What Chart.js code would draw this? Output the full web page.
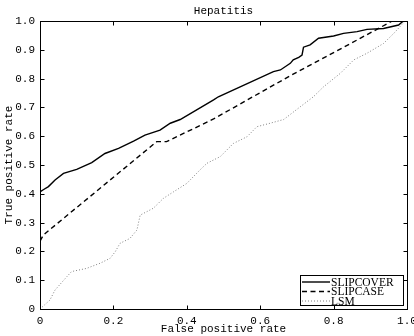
<!DOCTYPE html>
<html>
<head>
<meta charset="utf-8">
<script src="https://cdn.jsdelivr.net/npm/chart.js@4/dist/chart.umd.min.js"></script>
<style>
  html, body { margin: 0; padding: 0; background: #fff; }
  #wrap { width: 414px; height: 336px; }
</style>
</head>
<body>
<div id="wrap"><canvas id="roc"></canvas></div>
<script>
// ROC curves
const chartTitle = "Hepatitis";
const seriesNames = ["SLIPCOVER", "SLIPCASE", "LSM"];

const slipcoverFpr = [0, 0, 0.01, 0.023, 0.041, 0.064, 0.1, 0.141, 0.177, 0.214, 0.255, 0.286, 0.327, 0.355, 0.382, 0.473, 0.486, 0.636, 0.655, 0.682, 0.69, 0.705, 0.714, 0.718, 0.736, 0.759, 0.8, 0.827, 0.864, 0.891, 0.936, 0.977, 0.99, 1];
const slipcoverTpr = [0, 0.407, 0.415, 0.425, 0.448, 0.471, 0.485, 0.508, 0.54, 0.558, 0.583, 0.604, 0.621, 0.645, 0.658, 0.726, 0.737, 0.824, 0.83, 0.853, 0.865, 0.874, 0.882, 0.909, 0.917, 0.94, 0.948, 0.957, 0.963, 0.971, 0.974, 0.986, 1, 1];

const slipcaseFpr = [0, 0, 0.009, 0.318, 0.345, 0.473, 0.682, 0.81, 0.96, 1];
const slipcaseTpr = [0, 0.235, 0.257, 0.581, 0.581, 0.66, 0.81, 0.897, 1, 1];

const lsmFpr = [0, 0.027, 0.041, 0.073, 0.086, 0.127, 0.164, 0.191, 0.205, 0.218, 0.245, 0.264, 0.273, 0.309, 0.336, 0.364, 0.4, 0.436, 0.455, 0.491, 0.527, 0.564, 0.591, 0.627, 0.664, 0.709, 0.745, 0.773, 0.818, 0.855, 0.891, 0.936, 0.964, 0.995, 1];
const lsmTpr = [0, 0.031, 0.066, 0.112, 0.13, 0.141, 0.159, 0.176, 0.199, 0.228, 0.245, 0.274, 0.326, 0.35, 0.384, 0.407, 0.436, 0.483, 0.506, 0.529, 0.575, 0.598, 0.633, 0.645, 0.658, 0.702, 0.737, 0.772, 0.818, 0.865, 0.888, 0.922, 0.957, 1, 1];

const xTicks = [0, 0.2, 0.4, 0.6, 0.8, 1];
const yTicks = [0, 0.1, 0.2, 0.3, 0.4, 0.5, 0.6, 0.7, 0.8, 0.9, 1];

const MONO = "'Liberation Mono', 'DejaVu Sans Mono', monospace";
const SERIF = "'Liberation Serif', 'DejaVu Serif', serif";

function toPoints(xs, ys) {
  return xs.map((x, i) => ({ x: x, y: ys[i] }));
}

// box, inward ticks, title and legend in MATLAB style
const matlabFrame = {
  id: "matlabFrame",
  afterDraw(chart) {
    const ctx = chart.ctx;
    const a = chart.chartArea;
    const xs = chart.scales.x;
    const ys = chart.scales.y;
    const L = Math.round(a.left) + 0.5, R = Math.round(a.right) + 0.5;
    const T = Math.round(a.top) + 0.5, B = Math.round(a.bottom) + 0.5;
    ctx.save();
    ctx.strokeStyle = "#000";
    ctx.lineWidth = 1;
    ctx.strokeRect(L, T, R - L, B - T);
    ctx.beginPath();
    xTicks.forEach((v) => {
      const px = Math.round(xs.getPixelForValue(v)) + 0.5;
      ctx.moveTo(px, B); ctx.lineTo(px, B - 4);
      ctx.moveTo(px, T); ctx.lineTo(px, T + 4);
    });
    yTicks.forEach((v) => {
      const py = Math.round(ys.getPixelForValue(v)) + 0.5;
      ctx.moveTo(L, py); ctx.lineTo(L + 4, py);
      ctx.moveTo(R, py); ctx.lineTo(R - 4, py);
    });
    ctx.stroke();

    // title
    ctx.fillStyle = "#000";
    ctx.font = "11px " + MONO;
    ctx.textAlign = "center";
    ctx.textBaseline = "middle";
    ctx.fillText(chartTitle, (a.left + a.right) / 2, 11);

    // legend
    const bx = 300.5, by = 275.5, bw = 103, bh = 30;
    ctx.fillStyle = "#fff";
    ctx.fillRect(bx, by, bw, bh);
    ctx.strokeStyle = "#000";
    ctx.lineWidth = 1;
    ctx.setLineDash([]);
    ctx.strokeRect(bx, by, bw, bh);
    ctx.font = "11.5px " + SERIF;
    ctx.textAlign = "left";
    chart.data.datasets.forEach((ds, i) => {
      const cy = 282 + i * 9.5;
      ctx.beginPath();
      ctx.strokeStyle = ds.borderColor;
      ctx.lineWidth = ds.borderWidth;
      ctx.setLineDash(ds.borderDash || []);
      ctx.moveTo(302, cy);
      ctx.lineTo(330, cy);
      ctx.stroke();
      ctx.fillStyle = "#000";
      ctx.fillText(ds.label, 331, cy + 0.5);
    });
    ctx.restore();
  },
};

new Chart(document.getElementById("roc"), {
  type: "scatter",
  data: {
    datasets: [
      {
        label: seriesNames[0],
        data: toPoints(slipcoverFpr, slipcoverTpr),
        showLine: true,
        borderColor: "#000",
        borderWidth: 1.4,
        pointRadius: 0,
      },
      {
        label: seriesNames[1],
        data: toPoints(slipcaseFpr, slipcaseTpr),
        showLine: true,
        borderColor: "#000",
        borderWidth: 1.4,
        borderDash: [5, 3.5],
        pointRadius: 0,
      },
      {
        label: seriesNames[2],
        data: toPoints(lsmFpr, lsmTpr),
        showLine: true,
        borderColor: "#808080",
        borderWidth: 1,
        borderDash: [1, 2],
        pointRadius: 0,
      },
    ],
  },
  options: {
    responsive: true,
    maintainAspectRatio: false,
    animation: false,
    layout: { padding: { top: 21, right: 0, left: 0, bottom: 0 } },
    plugins: {
      legend: { display: false },
      title: { display: false },
      tooltip: { enabled: false },
    },
    scales: {
      x: {
        type: "linear",
        min: 0,
        max: 1,
        afterBuildTicks: (s) => { s.ticks = xTicks.map((v) => ({ value: v })); },
        afterFit: (s) => { s.height = 27; s.paddingRight = 7; s.paddingLeft = 0; },
        grid: { display: false, tickLength: 0 },
        border: { display: false },
        ticks: { color: "#000", padding: 5, font: { family: MONO, size: 11 } },
        title: {
          display: true,
          text: "False positive rate",
          color: "#000",
          padding: 0,
          font: { family: MONO, size: 11 },
        },
      },
      y: {
        type: "linear",
        min: 0,
        max: 1,
        afterBuildTicks: (s) => { s.ticks = yTicks.map((v) => ({ value: v })); },
        afterFit: (s) => { s.width = 40; },
        grid: { display: false, tickLength: 0 },
        border: { display: false },
        ticks: { color: "#000", padding: 5, font: { family: MONO, size: 11 } },
        title: {
          display: true,
          text: "True positive rate",
          color: "#000",
          padding: { top: 2, bottom: 0 },
          font: { family: MONO, size: 11 },
        },
      },
    },
  },
  plugins: [matlabFrame],
});
</script>
</body>
</html>
